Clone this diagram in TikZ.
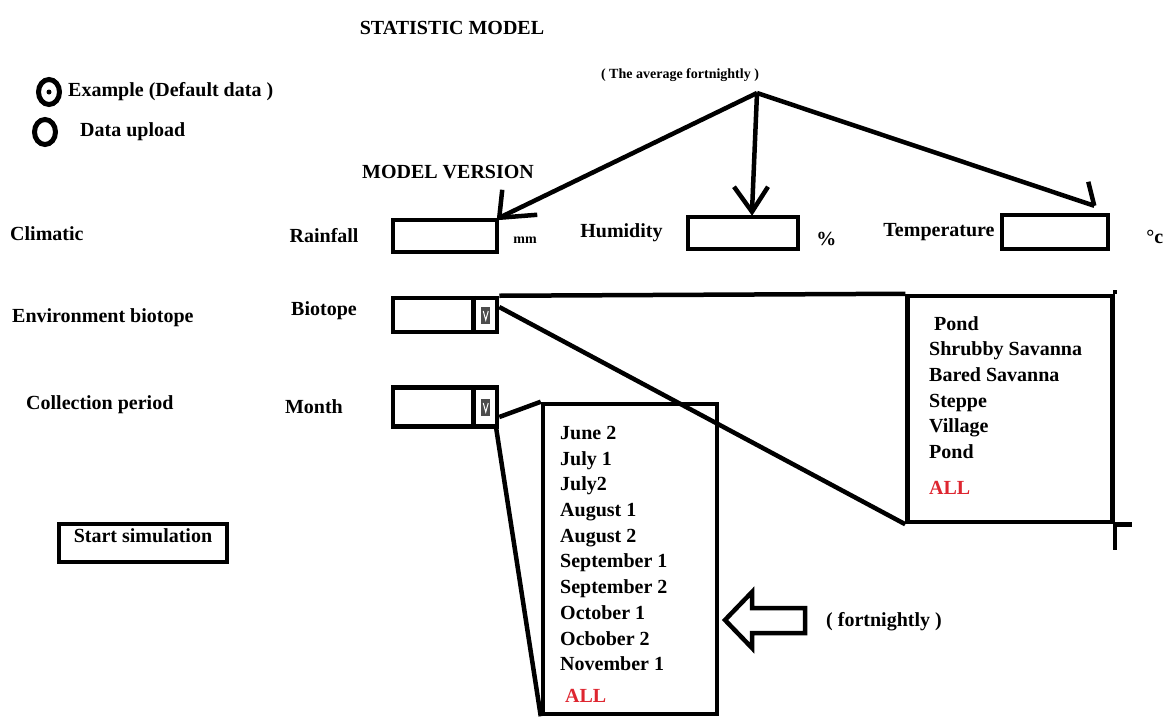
\documentclass[tikz,border=0pt]{standalone}
\usepackage{fontspec}
\setmainfont{Liberation Serif}
\usepackage{xcolor}
\usetikzlibrary{positioning,calc,shapes.geometric}
\definecolor{allred}{RGB}{222,38,48}
\tikzset{
  thk/.style={line width=4.5pt},
  lbl/.style={font=\bfseries\fontsize{20}{25.7}\selectfont, inner sep=0pt},
  small/.style={font=\bfseries\fontsize{14}{16}\selectfont, inner sep=0pt},
  field/.style={draw, thk, minimum width=104pt, minimum height=32pt, inner sep=0pt},
  radio/.style={draw, ellipse, line width=5pt, minimum width=21pt, minimum height=25pt, inner sep=0pt}
}

\begin{document}
\begin{tikzpicture}[x=1pt,y=-1pt]
\useasboundingbox (0,0) rectangle (1174,718);

% header
\node[lbl] (title) at (452,28) {STATISTIC MODEL};
\node[radio] (rex) at (49,92) {};
\fill (rex.center) circle (2.5pt);
\node[lbl, right=6pt of rex] (extxt) {Example (Default data )};
\node[radio] (rup) at (45,132) {};
\node[lbl, right=22pt of rup] (uptxt) {Data upload};
\node[small] (avg) at (680,75) {( The average fortnightly )};
\coordinate (apex) at (757,93);
\node[lbl] (version) at (448,172) {MODEL VERSION};

% climatic row
\node[lbl, anchor=west] (clim) at (10,234) {Climatic};
\node[field] (rainfield) at (445,236) {};
\node[lbl, left=32pt of rainfield] (rain) {Rainfall};
\node[small, right=14pt of rainfield, yshift=-4pt] (mm) {mm};
\node[field, minimum width=110pt] (humfield) at (743,233) {};
\node[lbl, left=23pt of humfield] (hum) {Humidity};
\node[lbl, right=16pt of humfield, yshift=-6pt] (pct) {\%};
\node[field, minimum width=106pt, minimum height=34pt] (tempfield) at (1055,232) {};
\node[lbl, left=5pt of tempfield] (temp) {Temperature};
\node[lbl, right=36pt of tempfield, yshift=-5pt] (degc) {°c};

% arrows from the average
\draw[thk] (apex) -- (rainfield.north east);
\draw[thk] ([shift={(3,-28)}]rainfield.north east) -- (rainfield.north east) -- ++(38,-3);
\coordinate (humtip) at ([xshift=9pt,yshift=3pt]humfield.north);
\draw[thk] (apex) -- (humtip);
\draw[thk] ($(humtip)+(-18,-25)$) -- (humtip) -- ($(humtip)+(16,-25)$);
\coordinate (temptip) at ([xshift=-16pt,yshift=7pt]tempfield.north east);
\draw[thk] (apex) -- (temptip);
\draw[thk] ($(temptip)+(-6,-24)$) -- (temptip);

% biotope row
\node[lbl, anchor=west] (env) at (12,318) {Environment biotope};
\node[field, minimum height=34pt] (biofield) at (445,315) {};
\node[lbl, anchor=east] (bio) at (357,311) {Biotope};
\draw[thk] ([xshift=-26pt]biofield.north east) -- ([xshift=-26pt]biofield.south east);
\fill[black!70] ([xshift=-18pt,yshift=8pt]biofield.east) rectangle ([xshift=-9pt,yshift=-9pt]biofield.east);
\draw[white, line width=1pt] ([xshift=-16pt,yshift=4pt]biofield.east) -- ([xshift=-13.5pt,yshift=-5pt]biofield.east) -- ([xshift=-11pt,yshift=4pt]biofield.east);

\node[draw, thk, minimum width=205pt, minimum height=226pt] (biolist) at (1010,409) {};
\node[lbl, align=left, anchor=north west] (bioitems) at (929,316)
  {\hspace{5pt}Pond\\Shrubby Savanna\\Bared Savanna\\Steppe\\Village\\Pond\\[10pt]\textcolor{allred}{ALL}};
\draw[thk] (biofield.north east) -- (biolist.north west);
\draw[thk] ([yshift=8pt]biofield.east) -- (biolist.south west);
\draw[thk] (biolist.north east) -- ++(0,-4);
\draw[thk] (biolist.south east) -- ++(0,26);
\draw[thk] (biolist.south east) -- ++(17,0);

% month row
\node[lbl, anchor=west] (coll) at (26,405) {Collection period};
\node[field, minimum height=39pt] (monthfield) at (445,407) {};
\node[lbl, anchor=east] (month) at (343,407) {Month};
\draw[thk] ([xshift=-26pt]monthfield.north east) -- ([xshift=-26pt]monthfield.south east);
\fill[black!70] ([xshift=-18pt,yshift=8pt]monthfield.east) rectangle ([xshift=-9pt,yshift=-9pt]monthfield.east);
\draw[white, line width=1pt] ([xshift=-16pt,yshift=4pt]monthfield.east) -- ([xshift=-13.5pt,yshift=-5pt]monthfield.east) -- ([xshift=-11pt,yshift=4pt]monthfield.east);

\node[draw, thk, minimum width=174pt, minimum height=310pt] (monthlist) at (630,559) {};
\node[lbl, align=left, anchor=north west] (monthitems) at (560,426)
  {June 2\\July 1\\July2\\August 1\\August 2\\September 1\\September 2\\October 1\\Ocbober 2\\November 1\\[6pt]\hspace{5pt}\textcolor{allred}{ALL}};
\draw[thk] ([yshift=-10pt]monthfield.east) -- (monthlist.north west);
\draw[thk] ([xshift=-3pt]monthfield.south east) -- (monthlist.south west);

% fortnightly arrow
\coordinate (ltip) at (725,620);
\draw[thk] (ltip) -- ++(27,-28) -- ++(0,16) -- ++(53,0) -- ++(0,25) -- ++(-53,0) -- ++(0,15) -- cycle;
\node[lbl, anchor=west] (fort) at (826,622) {( fortnightly )};

% start button
\node[draw, thk, lbl, minimum width=168pt, minimum height=38pt, text depth=14pt] (start) at (143,543) {Start simulation};
\end{tikzpicture}
\end{document}
